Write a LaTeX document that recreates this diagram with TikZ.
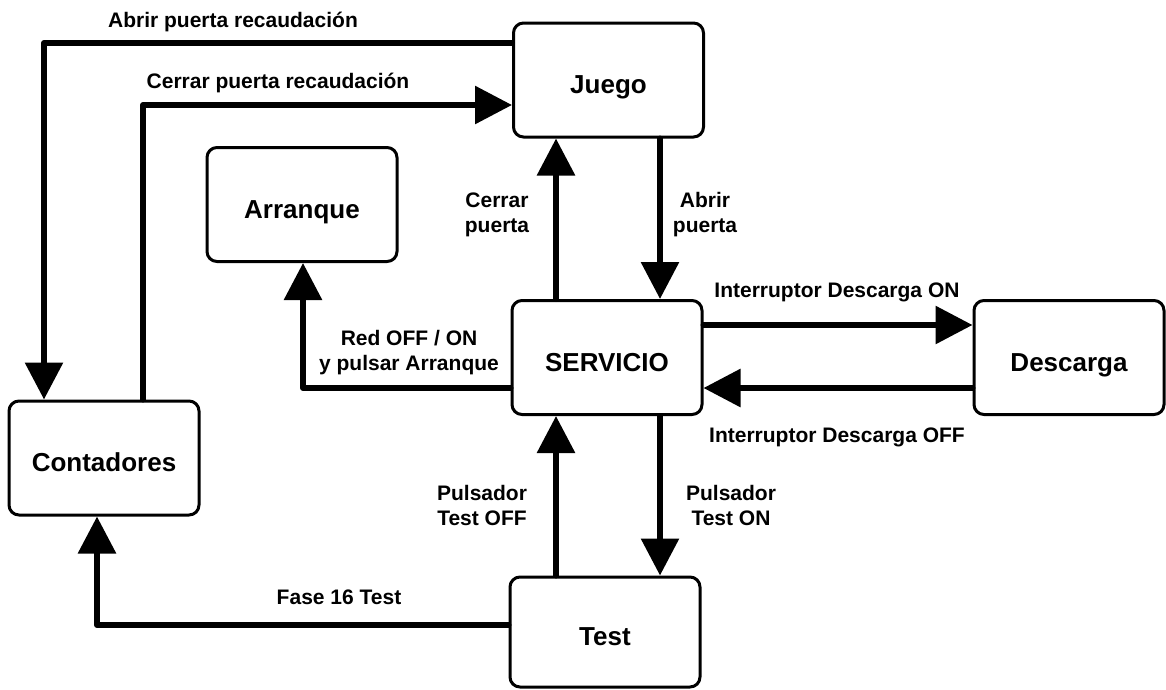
\documentclass[tikz,border=0pt]{standalone}
\usepackage{fontspec}
\setmainfont{Liberation Sans}
\usetikzlibrary{arrows.meta}
\begin{document}
\begin{tikzpicture}[x=1pt,y=-1pt,
 state/.style={draw,line width=3pt,rounded corners=10pt,minimum width=190pt,minimum height=114pt,font=\fontsize{26}{30}\selectfont\bfseries,inner sep=0pt,text height=30pt,text depth=3pt},
 lbl/.style={font=\fontsize{21}{25}\selectfont\bfseries,align=center,inner sep=0pt},
 conn/.style={line width=6pt,line cap=round,line join=round},
 arr/.style={conn,-{Triangle[length=37pt,width=37pt]}}]
\useasboundingbox (0,0) rectangle (1166,689);
% states
\node[state] (Juego) at (608.5,80) {Juego};
\node[state] (Arranque) at (302,204.5) {Arranque};
\node[state] (SERVICIO) at (607,357.5) {SERVICIO};
\node[state] (Descarga) at (1069,357.5) {Descarga};
\node[state] (Contadores) at (104,458) {Contadores};
\node[state,minimum height=110pt] (Test) at (605,632) {Test};
% helper coordinates
\coordinate (c1) at (44,43);
\coordinate (c2) at (143,105);
\coordinate (c3) at (303,388);
\coordinate (c4) at (97,625);
\coordinate (xa) at (556,0);
\coordinate (xb) at (660,0);
\coordinate (ya) at (0,325);
\coordinate (yb) at (0,388);
% connectors
\draw[arr] (Juego.west |- c1) -- (c1) -- (c1 |- Contadores.north);
\draw[arr] (c2 |- Contadores.north) -- (c2) -- (Juego.west |- c2);
\draw[arr] (SERVICIO.north -| xa) -- (Juego.south -| xa);
\draw[arr] (Juego.south -| xb) -- (SERVICIO.north -| xb);
\draw[arr] (SERVICIO.east |- ya) -- (Descarga.west |- ya);
\draw[arr] (Descarga.west |- yb) -- (SERVICIO.east |- yb);
\draw[arr] (SERVICIO.west |- c3) -- (c3) -- (c3 |- Arranque.south);
\draw[arr] (Test.north -| xa) -- (SERVICIO.south -| xa);
\draw[arr] (SERVICIO.south -| xb) -- (Test.north -| xb);
\draw[arr] (Test.west |- c4) -- (c4) -- (c4 |- Contadores.south);
% labels
\node[lbl] (l1) at (233,22) {Abrir puerta recaudación};
\node[lbl] (l2) at (278,83) {Cerrar puerta recaudación};
\node[lbl] (l3) at (497,214.5) {Cerrar\\puerta};
\node[lbl] (l4) at (705,214.5) {Abrir\\puerta};
\node[lbl] (l5) at (409,352.5) {Red OFF / ON\\y pulsar Arranque};
\node[lbl] (l6) at (837,292) {Interruptor Descarga ON};
\node[lbl] (l7) at (837,437) {Interruptor Descarga OFF};
\node[lbl] (l8) at (482,505.5) {Pulsador\\Test OFF};
\node[lbl] (l9) at (731,505.5) {Pulsador\\Test ON};
\node[lbl] (l10) at (339,597) {Fase 16 Test};
\end{tikzpicture}
\end{document}
